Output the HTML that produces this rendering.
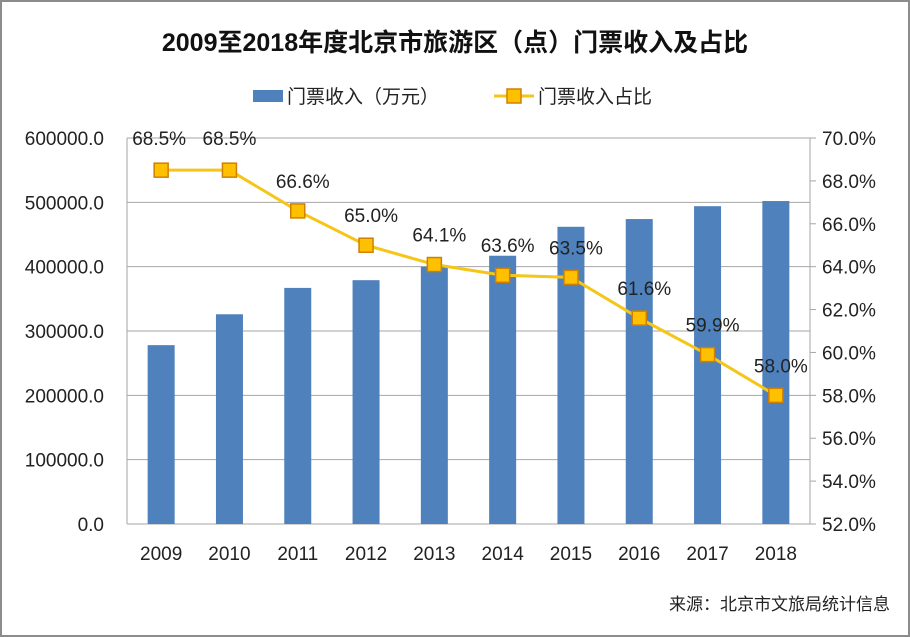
<!DOCTYPE html>
<html><head><meta charset="utf-8"><style>
body{margin:0;background:#fff}
svg{display:block;font-family:"Liberation Sans","Noto Sans CJK SC",sans-serif}
</style></head><body>
<svg id="c" width="910" height="637">
<rect x="1" y="1" width="908" height="635" fill="#fff" stroke="#8c8c8c" stroke-width="2"/>
<text x="455" y="51" text-anchor="middle" font-size="25" font-weight="bold" fill="#111">2009至2018年度北京市旅游区（点）门票收入及占比</text>
<g>
<rect x="253" y="90" width="30" height="12" fill="#4f81bd"/>
<text x="287" y="103" font-size="19" fill="#222">门票收入（万元）</text>
<line x1="494" y1="96" x2="534" y2="96" stroke="#f5c518" stroke-width="3"/>
<rect x="507" y="89" width="14" height="14" fill="#ffc000" stroke="#d08000" stroke-width="1.5"/>
<text x="538" y="103" font-size="19" fill="#222">门票收入占比</text>
</g>
<g id="grid"></g><g id="bars"></g><g id="line"></g><g id="axes"></g>
<text x="890" y="610" text-anchor="end" font-size="17" fill="#222">来源：北京市文旅局统计信息</text>
</svg>
<script>
const years=["2009","2010","2011","2012","2013","2014","2015","2016","2017","2018"];
const revenue=[278000,326000,367000,379000,400000,417000,462000,474000,494000,502000];
const share=[68.5,68.5,66.6,65.0,64.1,63.6,63.5,61.6,59.9,58.0];
const leftTicks=[0,100000,200000,300000,400000,500000,600000];
const rightTicks=[52,54,56,58,60,62,64,66,68,70];
const L=127,R=810,T=138,B=524;
const ns="http://www.w3.org/2000/svg";
const step=(R-L)/years.length;
const xc=i=>L+step*(i+0.5);
const yL=v=>B-(v/600000)*(B-T);
const yR=v=>B-((v-52)/18)*(B-T);
function mk(tag,attrs,parent,text){const e=document.createElementNS(ns,tag);for(const k in attrs)e.setAttribute(k,attrs[k]);if(text!==undefined)e.textContent=text;document.getElementById(parent).appendChild(e);return e;}
leftTicks.forEach(v=>{
 const g=mk("line",{x1:L,x2:R,y1:yL(v),y2:yL(v),stroke:"#a6a6a6","stroke-width":1},"grid");
 
 
 const t=mk("text",{x:104,y:yL(v)+7,"text-anchor":"end","font-size":19,fill:"#222"},"axes",v.toFixed(1));
 
 
});
const la=mk("line",{x1:L,x2:L,y1:T,y2:B,stroke:"#a6a6a6"},"axes");


const ra=mk("line",{x1:R,x2:R,y1:T,y2:B,stroke:"#a6a6a6"},"axes");


rightTicks.forEach(v=>{
 const tk=mk("line",{x1:R,x2:R+6,y1:yR(v),y2:yR(v),stroke:"#a6a6a6"},"axes");
 
 
 const t=mk("text",{x:822,y:yR(v)+7,"font-size":19,fill:"#222"},"axes",v.toFixed(1)+"%");
 
 
});
years.forEach((y,i)=>{
 const b=mk("rect",{x:xc(i)-13.5,y:yL(revenue[i]),width:27,height:B-yL(revenue[i]),fill:"#4f81bd"},"bars");
 
 
 const t=mk("text",{x:xc(i),y:560,"text-anchor":"middle","font-size":19,fill:"#222"},"axes",y);
 
 
});
const pl=mk("polyline",{points:share.map((v,i)=>xc(i)+","+yR(v)).join(" "),fill:"none",stroke:"#f5c518","stroke-width":3},"line");


share.forEach((v,i)=>{
 const m=mk("rect",{x:xc(i)-7,y:yR(v)-7,width:14,height:14,fill:"#ffc000",stroke:"#d08000","stroke-width":1.5},"line");
 
 
 const t=mk("text",{x:xc(i)+(i==0?-2:i==1?0:5),y:yR(v)-(i<2?25:23),"text-anchor":"middle","font-size":19,fill:"#222"},"line",v.toFixed(1)+"%");
 
 
});
</script>
</body></html>
